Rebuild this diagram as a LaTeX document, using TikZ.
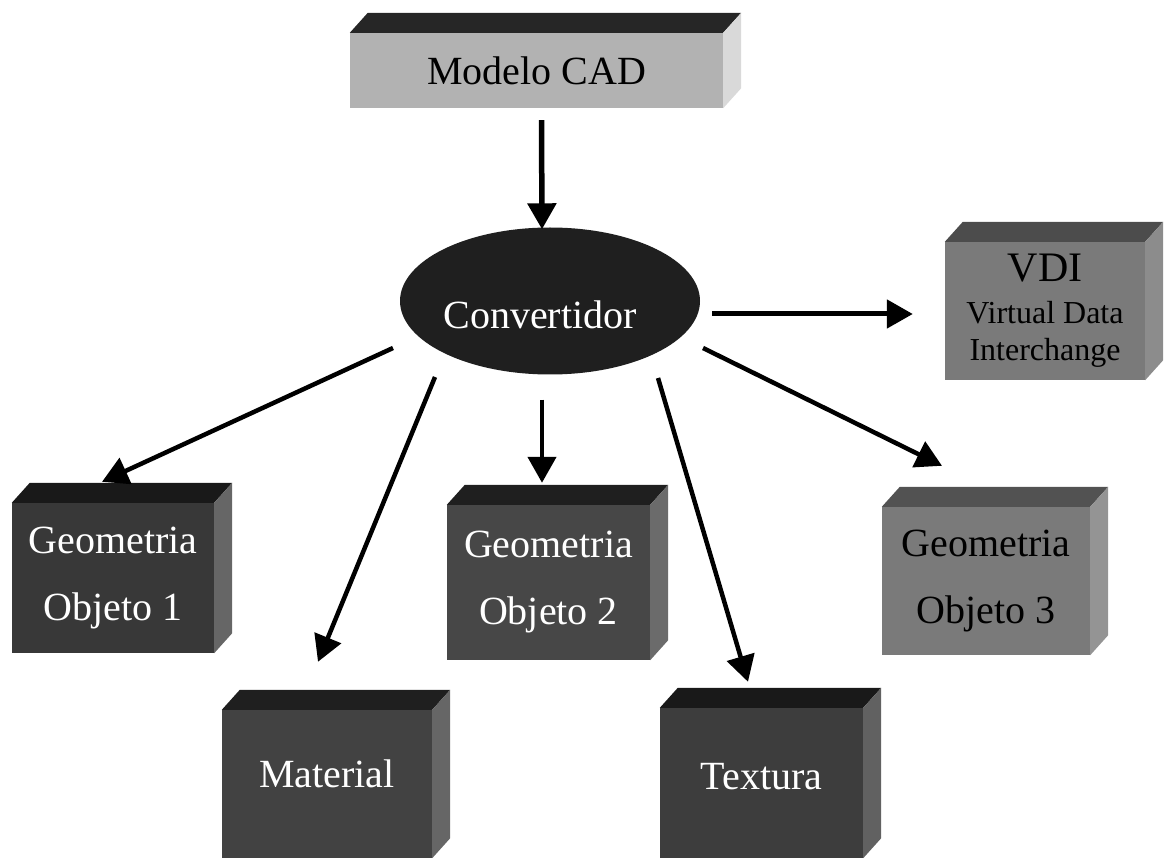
\documentclass[tikz,border=0pt]{standalone}
\usepackage{fontspec}
\setmainfont{Liberation Serif}
\usetikzlibrary{arrows.meta,calc,shapes.geometric}

\begin{document}
\begin{tikzpicture}[
    x=1pt, y=-1pt,
    box/.style={rectangle, inner sep=0pt, minimum width=203pt, minimum height=150pt,
      align=center, font=\fontsize{40}{67}\selectfont},
    darkbox/.style={box, fill=black!78, text=white},
    greybox/.style={box, fill=black!52, text=black},
    arr/.style={-{Triangle[length=26pt,width=28pt]}, line width=4.5pt},
  ]
  \useasboundingbox (0,0) rectangle (1170,858);

  % boxes (front faces)
  \node[box, fill=black!30, minimum width=373pt, minimum height=75pt] (cad) at (536.5,70.5) {Modelo CAD};
  \node[ellipse, fill=black!88, inner sep=0pt, minimum width=300pt, minimum height=147pt,
    label={[text=white, font=\fontsize{40}{48}\selectfont, xshift=-10pt, yshift=-14pt]center:Convertidor}] (conv) at (550,301) {};
  \node[greybox, minimum width=200pt, minimum height=138pt, font=\fontsize{32}{37}\selectfont] (vdi) at (1045,311)
    {{\fontsize{42}{42}\selectfont VDI}\\[5pt]Virtual Data\\Interchange};
  \node[darkbox, minimum width=202pt] (geo1) at (113,578) {Geometria\\Objeto 1};
  \node[darkbox, fill=black!74, minimum width=210pt, minimum height=148pt, text depth=20pt] (mat) at (327,784) {Material};
  \node[darkbox, fill=black!72, minimum height=155pt] (geo2) at (548.5,582.5) {Geometria\\Objeto 2};
  \node[darkbox, fill=black!76, text depth=14pt] (tex) at (761.5,783) {Textura};
  \node[greybox, minimum width=208pt, minimum height=148pt] (geo3) at (986,581) {Geometria\\Objeto 3};

  % top and side faces
  \foreach \n/\top/\side in {cad/black!85/black!15, vdi/black!70/black!45, geo1/black!90/black!60,
      mat/black!88/black!60, geo2/black!88/black!58, tex/black!90/black!62, geo3/black!68/black!42}{
    \fill[\top] (\n.north west) -- ++(18,-20) -- ($(\n.north east)+(18,-20)$) -- (\n.north east) -- cycle;
    \fill[\side] (\n.north east) -- ++(18,-20) -- ($(\n.south east)+(18,-20)$) -- (\n.south east) -- cycle;
  }

  % connectors
  \draw[arr, line width=5.5pt] ($(cad.south)+(5,12)$) -- ($(conv.north)+(-8,2)$);
  \draw[arr, line width=5pt] ($(conv.east)+(12,13)$) -- ($(vdi.west)+(-32,3)$);
  \draw[arr] ($(conv.center)+(-157,47)$) -- ($(geo1.north)+(-11,-21)$);
  \draw[arr] ($(conv.center)+(-115,76)$) -- ($(mat.north)+(-9,-48)$);
  \draw[arr] ($(conv.south)+(-8,25)$) -- ($(geo2.north)+(-6.5,-22)$);
  \draw[arr] ($(conv.center)+(108,77)$) -- ($(tex.north)+(-13.5,-26)$);
  \draw[arr] ($(conv.center)+(153,47)$) -- ($(geo3.north)+(-44,-41)$);
\end{tikzpicture}
\end{document}
